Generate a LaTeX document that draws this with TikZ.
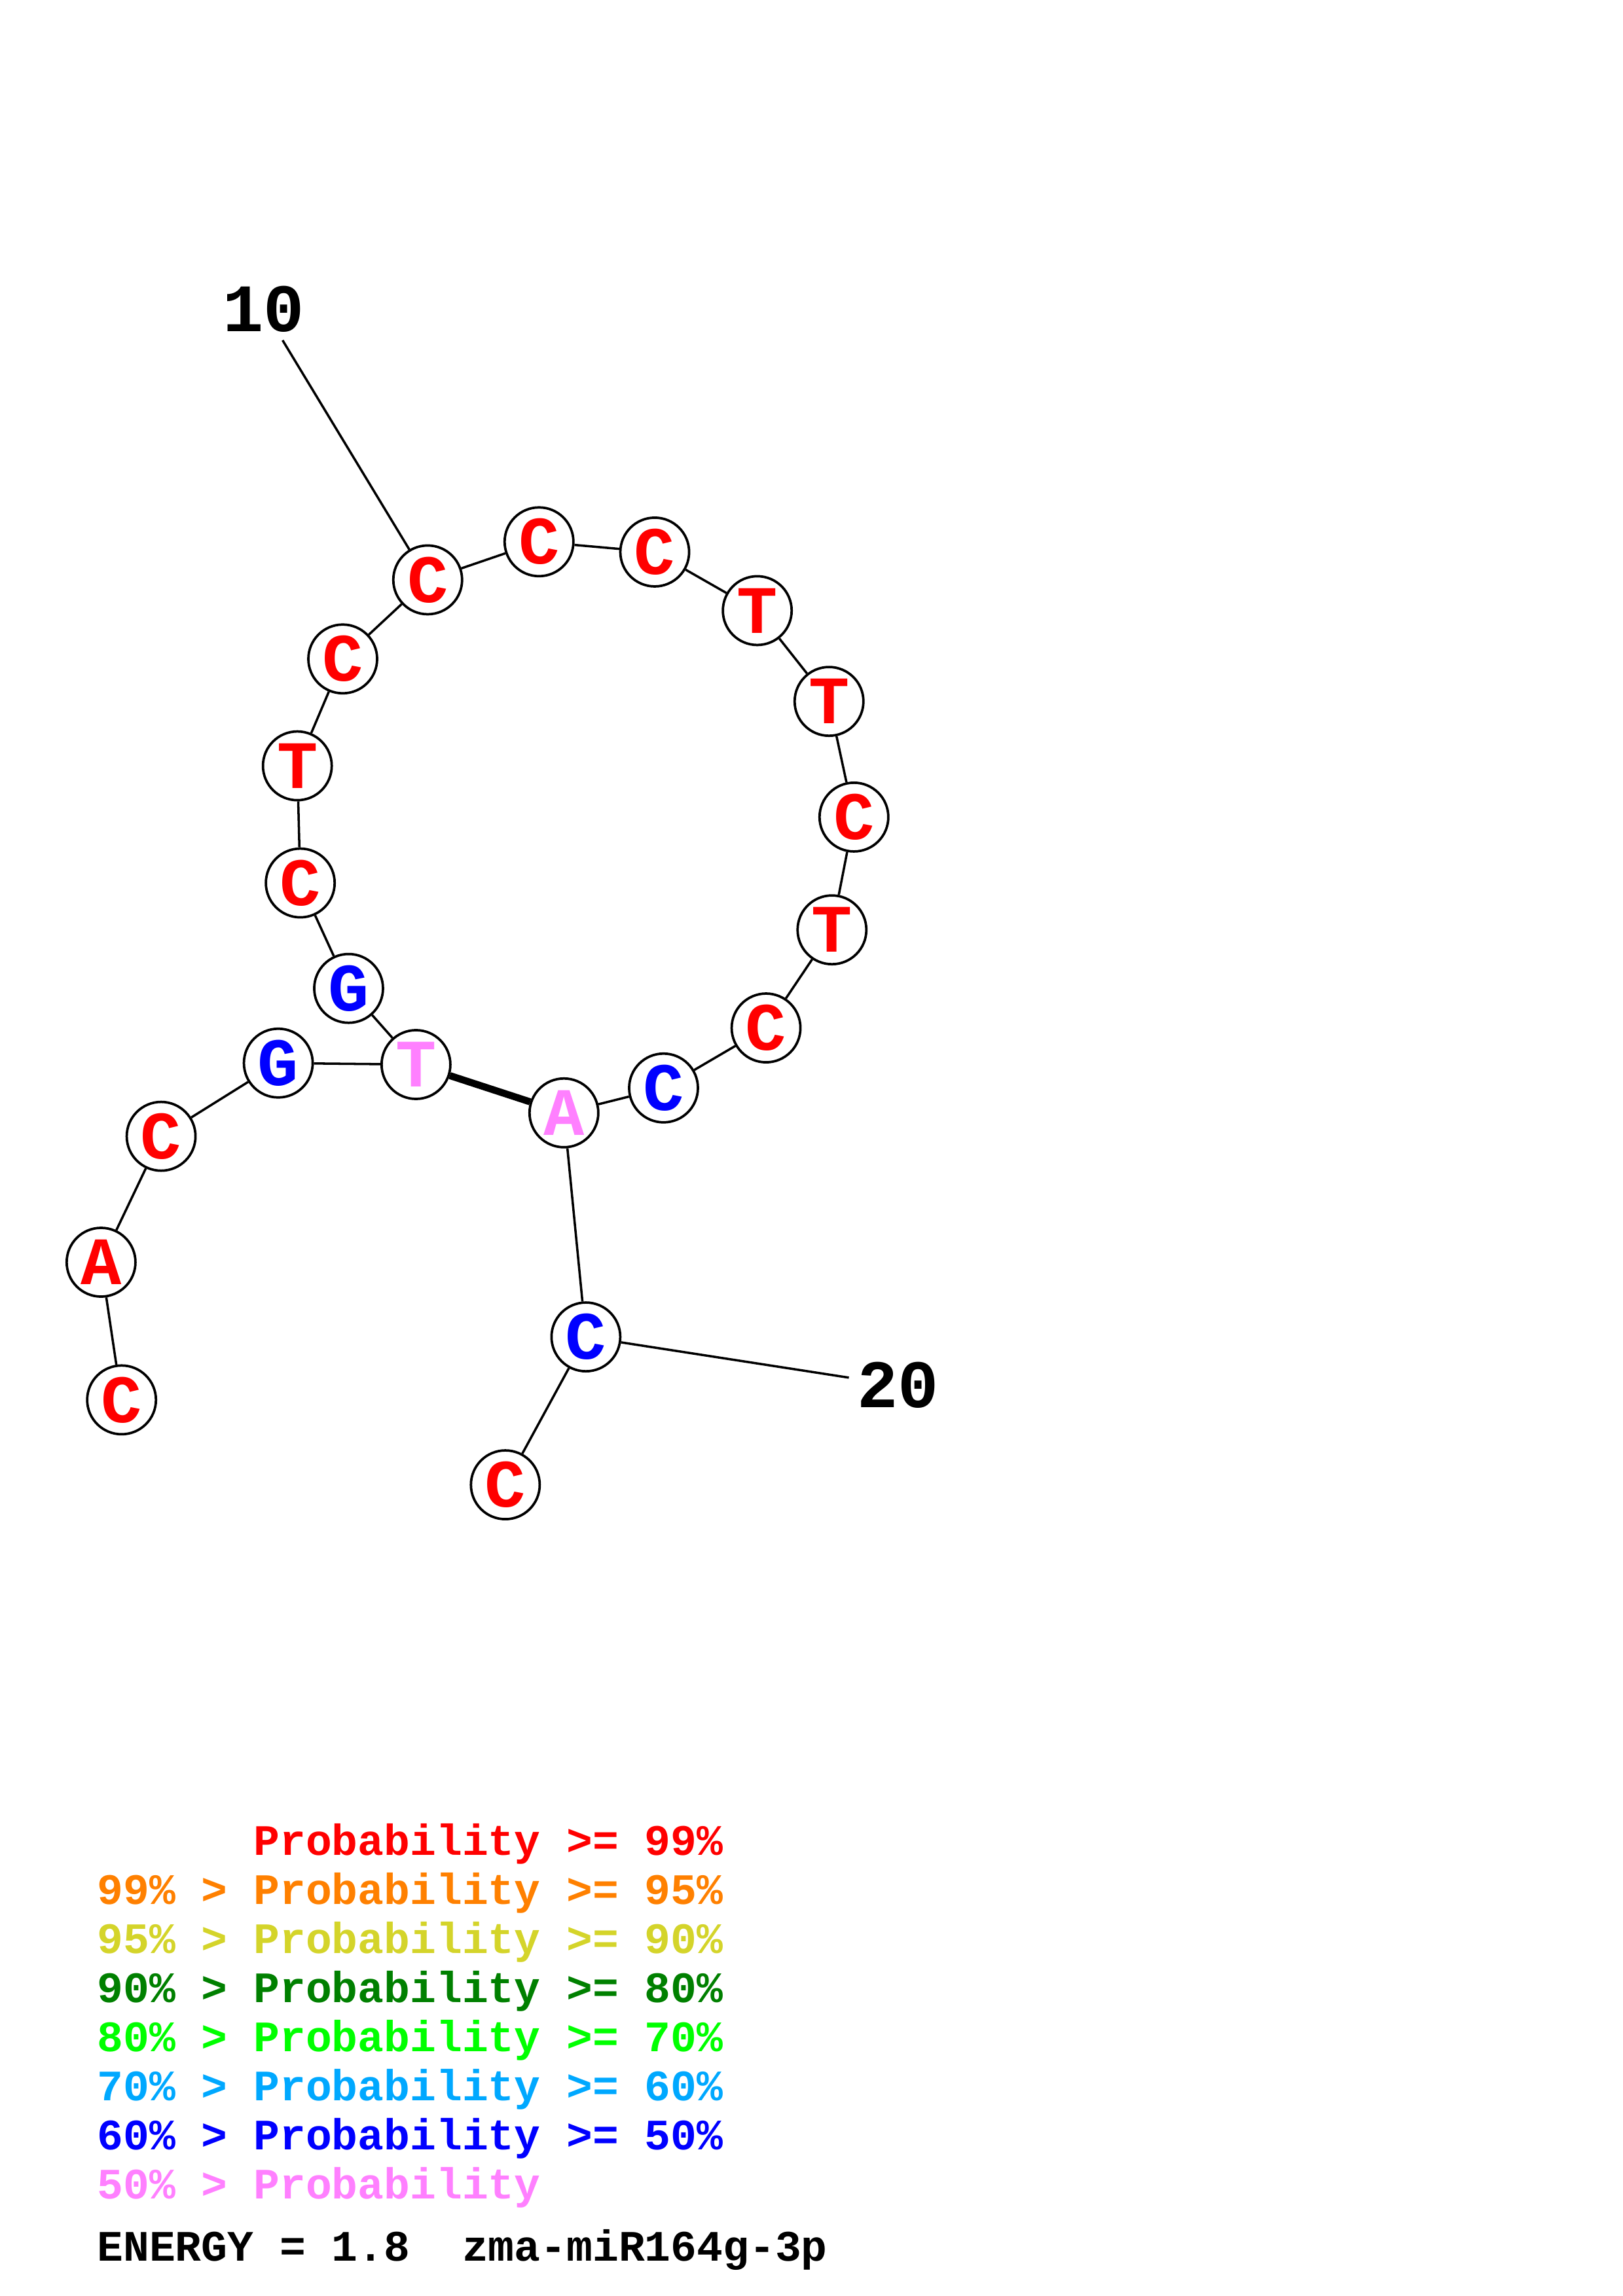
\documentclass[tikz,border=0pt]{standalone}
\usepackage{fontspec}
\setmonofont{Liberation Mono}

\definecolor{pa}{RGB}{255,0,0}
\definecolor{pb}{RGB}{255,128,0}
\definecolor{pc}{RGB}{212,212,42}
\definecolor{pd}{RGB}{0,128,0}
\definecolor{pe}{RGB}{0,255,0}
\definecolor{pf}{RGB}{0,168,255}
\definecolor{pg}{RGB}{0,0,255}
\definecolor{ph}{RGB}{255,128,255}

\begin{document}
\begin{tikzpicture}[x=0.18953mm,y=-0.18953mm,
    vertex/.style={draw,circle,minimum size=8.9mm,inner sep=0pt,line width=0.9pt,fill=white,font=\ttfamily\bfseries\fontsize{25}{25}\selectfont},
    numlab/.style={inner sep=1mm,font=\ttfamily\bfseries\fontsize{25}{25}\selectfont},
    legend/.style={anchor=base west,inner sep=0pt,font=\ttfamily\bfseries\fontsize{16}{16}\selectfont},
    bond/.style={line width=0.85pt},
    pair/.style={line width=2.6pt}]
        \useasboundingbox (0,0) rectangle (1108,1568);

        \node[vertex,text=pa] (n1) at (83,956) {C};
        \node[vertex,text=pa] (n2) at (69,862) {A};
        \node[vertex,text=pa] (n3) at (110,776) {C};
        \node[vertex,text=pg] (n4) at (190,726) {G};
        \node[vertex,text=ph] (n5) at (284,727) {T};
        \node[vertex,text=pg] (n6) at (238,675) {G};
        \node[vertex,text=pa] (n7) at (205,603) {C};
        \node[vertex,text=pa] (n8) at (203,523) {T};
        \node[vertex,text=pa] (n9) at (234,450) {C};
        \node[vertex,text=pa] (n10) at (292,396) {C};
        \node[vertex,text=pa] (n11) at (368,370) {C};
        \node[vertex,text=pa] (n12) at (447,377) {C};
        \node[vertex,text=pa] (n13) at (517,417) {T};
        \node[vertex,text=pa] (n14) at (566,479) {T};
        \node[vertex,text=pa] (n15) at (583,558) {C};
        \node[vertex,text=pa] (n16) at (568,635) {T};
        \node[vertex,text=pa] (n17) at (523,702) {C};
        \node[vertex,text=pg] (n18) at (453,743) {C};
        \node[vertex,text=ph] (n19) at (385,760) {A};
        \node[vertex,text=pg] (n20) at (400,913) {C};
        \node[vertex,text=pa] (n21) at (345,1014) {C};

        \node[numlab] (lab10) at (180,211) {10};
        \node[numlab] (lab20) at (613,946) {20};

        \draw[bond] (n1) -- (n2);
        \draw[bond] (n2) -- (n3);
        \draw[bond] (n3) -- (n4);
        \draw[bond] (n4) -- (n5);
        \draw[bond] (n5) -- (n6);
        \draw[bond] (n6) -- (n7);
        \draw[bond] (n7) -- (n8);
        \draw[bond] (n8) -- (n9);
        \draw[bond] (n9) -- (n10);
        \draw[bond] (n10) -- (n11);
        \draw[bond] (n11) -- (n12);
        \draw[bond] (n12) -- (n13);
        \draw[bond] (n13) -- (n14);
        \draw[bond] (n14) -- (n15);
        \draw[bond] (n15) -- (n16);
        \draw[bond] (n16) -- (n17);
        \draw[bond] (n17) -- (n18);
        \draw[bond] (n18) -- (n19);
        \draw[bond] (n19) -- (n20);
        \draw[bond] (n20) -- (n21);
        \draw[pair] (n5) -- (n19);

        \draw[bond] (n10) -- (lab10);
        \draw[bond] (n20) -- (lab20);

        % legend
        \pgfmathsetmacro{\lx}{66}
        \node[legend,text=pa] (l1) at (\lx,1267) {\phantom{99\% > }Probability >= 99\%};
        \node[legend,text=pb] (l2) at (\lx,1300.5) {99\% > Probability >= 95\%};
        \node[legend,text=pc] (l3) at (\lx,1334) {95\% > Probability >= 90\%};
        \node[legend,text=pd] (l4) at (\lx,1367.5) {90\% > Probability >= 80\%};
        \node[legend,text=pe] (l5) at (\lx,1401) {80\% > Probability >= 70\%};
        \node[legend,text=pf] (l6) at (\lx,1434.5) {70\% > Probability >= 60\%};
        \node[legend,text=pg] (l7) at (\lx,1468) {60\% > Probability >= 50\%};
        \node[legend,text=ph] (l8) at (\lx,1501.5) {50\% > Probability};
        \node[legend] (energy) at (\lx,1544) {ENERGY = 1.8\ \ zma-miR164g-3p};
\end{tikzpicture}
\end{document}
